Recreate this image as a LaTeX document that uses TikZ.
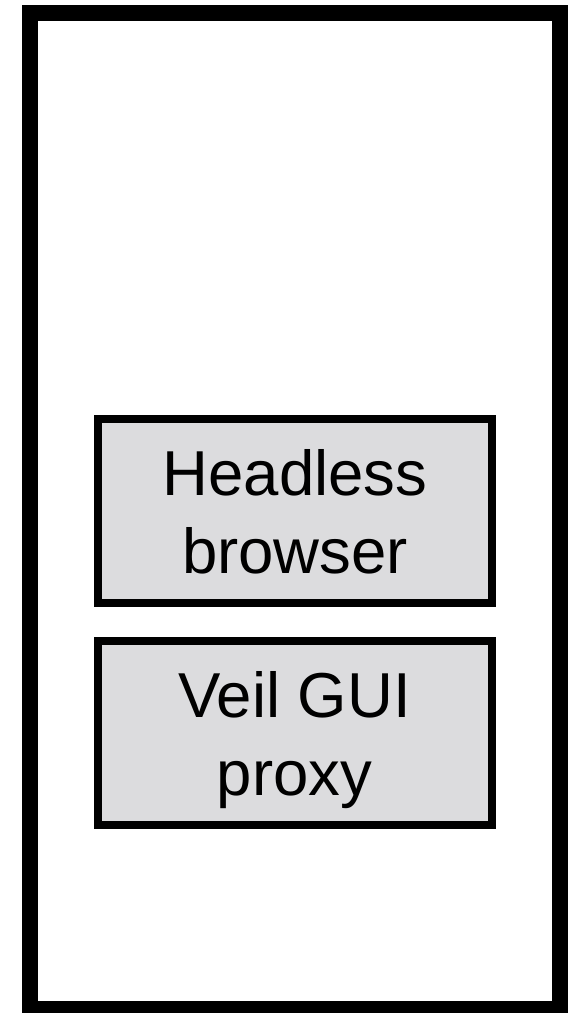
\documentclass[tikz,border=0pt]{standalone}
\usepackage{fontspec}
\setmainfont{Liberation Sans}
\definecolor{boxfill}{HTML}{DCDCDE}
\begin{document}
\begin{tikzpicture}[x=1pt,y=-1pt,
  frame/.style={draw=black,line width=16pt},
  compbox/.style={draw=black,fill=boxfill,line width=8pt},
  lbl/.style={align=center,font=\fontsize{63.5}{78}\selectfont,inner sep=0pt}]
  \useasboundingbox (0,0) rectangle (583,1013);
  % outer container
  \draw[frame] (29.5,13) rectangle (559.7,1009);
  % components
  \draw[compbox] (97.5,419) rectangle (492,603);
  \node[lbl] (hb) at (295,511.7) {Headless\\browser};
  \draw[compbox] (97.5,640.5) rectangle (492,824.5);
  \node[lbl] (vg) at (294.5,740) {Veil GUI\\proxy};
\end{tikzpicture}
\end{document}
